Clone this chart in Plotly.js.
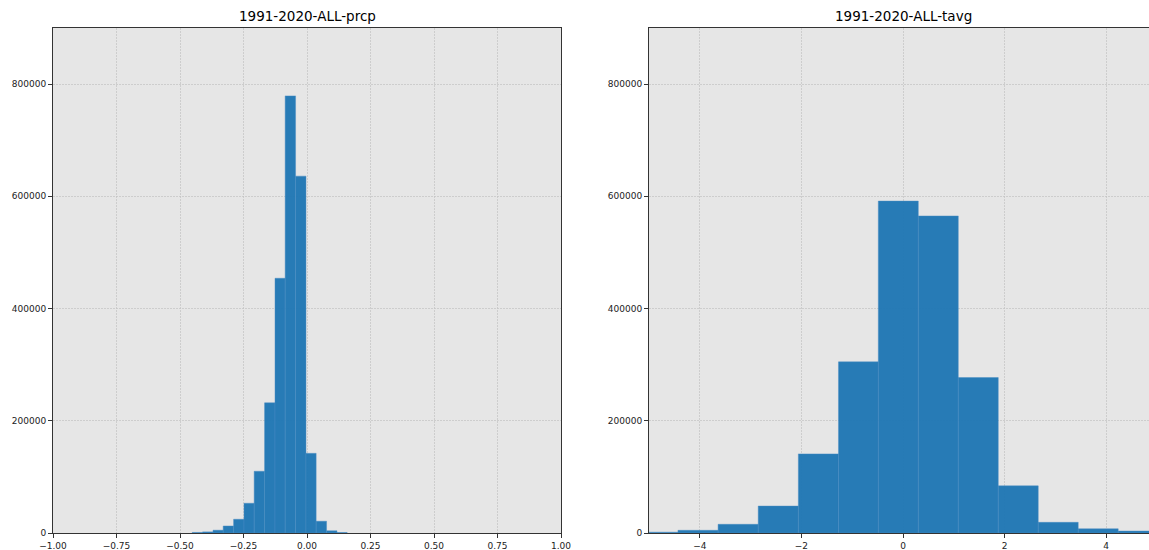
<!DOCTYPE html>
<html>
<head>
<meta charset="utf-8">
<script src="https://cdn.plot.ly/plotly-3.0.1.min.js"></script>
<style>
html,body{margin:0;padding:0;overflow:hidden;background:#fff;}
#chart{width:1160px;height:550px;}
</style>
</head>
<body>
<div id="chart"></div>
<script>
// Precipitation anomaly histogram (bin edges and counts)
const prcpEdges = [-0.452, -0.411, -0.370, -0.330, -0.289, -0.248, -0.208, -0.167, -0.126, -0.086, -0.045, -0.004, 0.036, 0.077, 0.118, 0.158];
const prcpCounts = [1000, 2000, 5000, 12500, 24500, 53000, 110000, 232000, 454000, 779000, 636000, 142000, 21000, 4000, 900];

// Average temperature anomaly histogram
const tavgEdges = [-5.21, -4.43, -3.64, -2.85, -2.06, -1.27, -0.486, 0.301, 1.088, 1.875, 2.662, 3.449, 4.236, 5.023];
const tavgCounts = [1500, 4800, 15500, 48000, 141000, 305000, 591500, 565000, 277000, 84000, 19000, 7500, 3500];

const titles = ["1991-2020-ALL-prcp", "1991-2020-ALL-tavg"];
const yTicks = [0, 200000, 400000, 600000, 800000];

function centers(edges){ const c=[]; for(let i=0;i<edges.length-1;i++) c.push((edges[i]+edges[i+1])/2); return c; }
function widths(edges){ const w=[]; for(let i=0;i<edges.length-1;i++) w.push(edges[i+1]-edges[i]); return w; }

const barStyle = {color:'rgba(31,119,180,0.96)', line:{color:'rgba(70,140,195,0.9)', width:0.5}};

const traces = [
  {type:'bar', x:centers(prcpEdges), y:prcpCounts, width:widths(prcpEdges), marker:barStyle, xaxis:'x', yaxis:'y', hoverinfo:'x+y', showlegend:false},
  {type:'bar', x:centers(tavgEdges), y:tavgCounts, width:widths(tavgEdges), marker:barStyle, xaxis:'x2', yaxis:'y2', hoverinfo:'x+y', showlegend:false}
];

const W = 1160;
const ml = 53, mr = 3;
const pw = W - ml - mr;
const d1 = [0, 508/pw];
const d2 = [596/pw, 1];

const axCommon = {
  showline:true, mirror:true, linecolor:'#333', linewidth:1,
  ticks:'outside', ticklen:4, tickcolor:'#333', tickwidth:1,
  tickfont:{family:'DejaVu Sans', size:9, color:'#222'},
  showgrid:true, gridcolor:'#c2c2c2', gridwidth:0.7, griddash:'1.5px,1.5px',
  zeroline:false, automargin:false
};

const layout = {
  width:W, height:550,
  margin:{l:ml, r:mr, t:28, b:17},
  paper_bgcolor:'#ffffff', plot_bgcolor:'#e6e6e6',
  bargap:0, barmode:'overlay',
  font:{family:'DejaVu Sans', color:'#222'},
  xaxis:Object.assign({}, axCommon, {domain:d1, range:[-1,1], tickvals:[-1,-0.75,-0.5,-0.25,0,0.25,0.5,0.75,1], tickformat:'.2f', anchor:'y'}),
  yaxis:Object.assign({}, axCommon, {domain:[0,1], range:[0,900000], tickvals:yTicks, tickformat:'d', anchor:'x'}),
  xaxis2:Object.assign({}, axCommon, {domain:d2, range:[-5,5], tickvals:[-4,-2,0,2,4], tickformat:'d', anchor:'y2'}),
  yaxis2:Object.assign({}, axCommon, {domain:[0,1], range:[0,900000], tickvals:yTicks, tickformat:'d', anchor:'x2'}),
  annotations:[
    {text:titles[0], xref:'paper', yref:'paper', x:(d1[0]+d1[1])/2, y:1, xanchor:'center', yanchor:'bottom', yshift:2, showarrow:false, font:{family:'DejaVu Sans', size:13.5, color:'#000'}},
    {text:titles[1], xref:'paper', yref:'paper', x:(d2[0]+d2[1])/2, y:1, xanchor:'center', yanchor:'bottom', yshift:2, showarrow:false, font:{family:'DejaVu Sans', size:13.5, color:'#000'}}
  ]
};

Plotly.newPlot('chart', traces, layout, {displayModeBar:false, staticPlot:true});
</script>
</body>
</html>
